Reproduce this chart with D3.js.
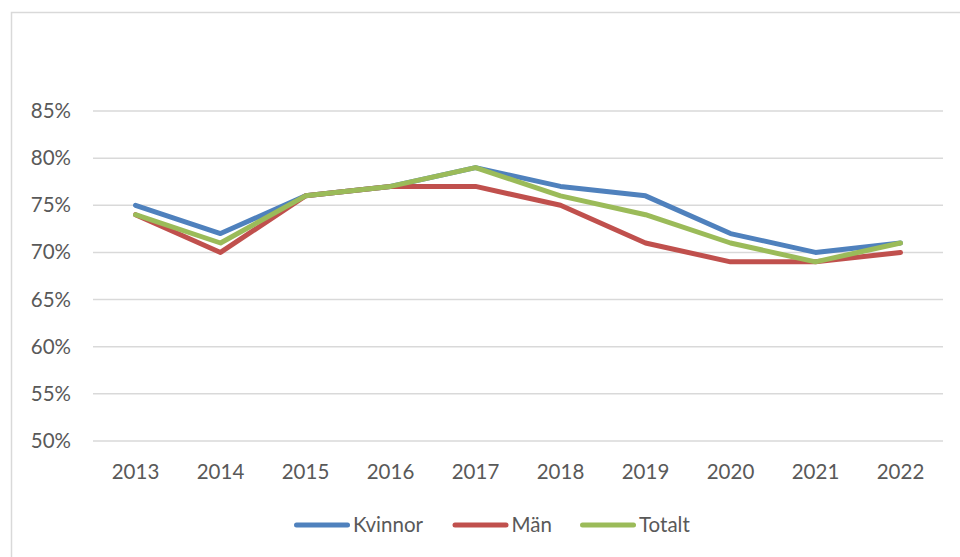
<!DOCTYPE html>
<html lang="sv">
<head>
    <meta charset="UTF-8">
    <title>Kvinnor, Män, Totalt 2013-2022</title>
    <script src="https://d3js.org/d3.v7.min.js"></script>
    <style>
        body {
            margin: 0;
            background: #fff;
            font-family: Lato, "Open Sans", sans-serif;
        }
    </style>
</head>
<body>
    <div id="chart"></div>

    <script>
        // Data
        const years = ["2013", "2014", "2015", "2016", "2017", "2018", "2019", "2020", "2021", "2022"];
        const kvinnor = [75, 72, 76, 77, 79, 77, 76, 72, 70, 71];
        const man = [74, 70, 76, 77, 77, 75, 71, 69, 69, 70];
        const totalt = [74, 71, 76, 77, 79, 76, 74, 71, 69, 71];
        const yTicks = [50, 55, 60, 65, 70, 75, 80, 85];

        const series = [
            { name: "Kvinnor", values: kvinnor, color: "#4f81bd" },
            { name: "Män", values: man, color: "#c0504d" },
            { name: "Totalt", values: totalt, color: "#9bbb59" }
        ];

        const width = 960, height = 557;
        const fontSize = "20.5px";
        const svg = d3.select("#chart").append("svg")
            .attr("width", width)
            .attr("height", height);

        // chart area border (runs off the right and bottom)
        svg.append("rect")
            .attr("x", 11.5).attr("y", 12.5)
            .attr("width", 970).attr("height", 560)
            .attr("fill", "none")
            .attr("stroke", "#d9d9d9")
            .attr("stroke-width", 1.5);

        const x = d3.scaleBand().domain(years).range([93, 943]);
        const y = d3.scaleLinear().domain([50, 85]).range([441, 111]);

        // gridlines
        svg.append("g")
            .selectAll("line")
            .data(yTicks)
            .enter().append("line")
            .attr("x1", 93).attr("x2", 943)
            .attr("y1", d => y(d)).attr("y2", d => y(d))
            .attr("stroke", "#d9d9d9")
            .attr("stroke-width", 1.5);

        // y axis labels
        const yAxis = svg.append("g")
            .attr("transform", "translate(71,0)")
            .call(d3.axisLeft(y).tickValues(yTicks).tickFormat(d => d + "%").tickSize(0).tickPadding(0));
        yAxis.select(".domain").remove();
        yAxis.selectAll("text")
            .attr("fill", "#595959")
            .style("font-size", fontSize)
            .style("font-family", "Lato, 'Open Sans', sans-serif");

        // x axis labels
        const xAxis = svg.append("g")
            .attr("transform", "translate(0,464)")
            .call(d3.axisBottom(x).tickSize(0).tickPadding(0));
        xAxis.select(".domain").remove();
        xAxis.selectAll("text")
            .attr("fill", "#595959")
            .style("font-size", fontSize)
            .style("font-family", "Lato, 'Open Sans', sans-serif");

        // lines
        const line = d3.line()
            .x((d, i) => x(years[i]) + x.bandwidth() / 2)
            .y(d => y(d));

        svg.append("g")
            .selectAll("path")
            .data(series)
            .enter().append("path")
            .attr("d", d => line(d.values))
            .attr("fill", "none")
            .attr("stroke", d => d.color)
            .attr("stroke-width", 5)
            .attr("stroke-linejoin", "round")
            .attr("stroke-linecap", "round");

        // legend
        const legendX = [294, 452.5, 580];
        const legend = svg.append("g")
            .selectAll("g")
            .data(series)
            .enter().append("g")
            .attr("transform", (d, i) => `translate(${legendX[i]},525)`);

        legend.append("line")
            .attr("x1", 2.5).attr("x2", 53.5)
            .attr("stroke", d => d.color)
            .attr("stroke-width", 5)
            .attr("stroke-linecap", "round");

        legend.append("text")
            .attr("x", 59)
            .attr("dy", "0.35em")
            .attr("fill", "#595959")
            .style("font-size", fontSize)
            .text(d => d.name);
    </script>
</body>
</html>
